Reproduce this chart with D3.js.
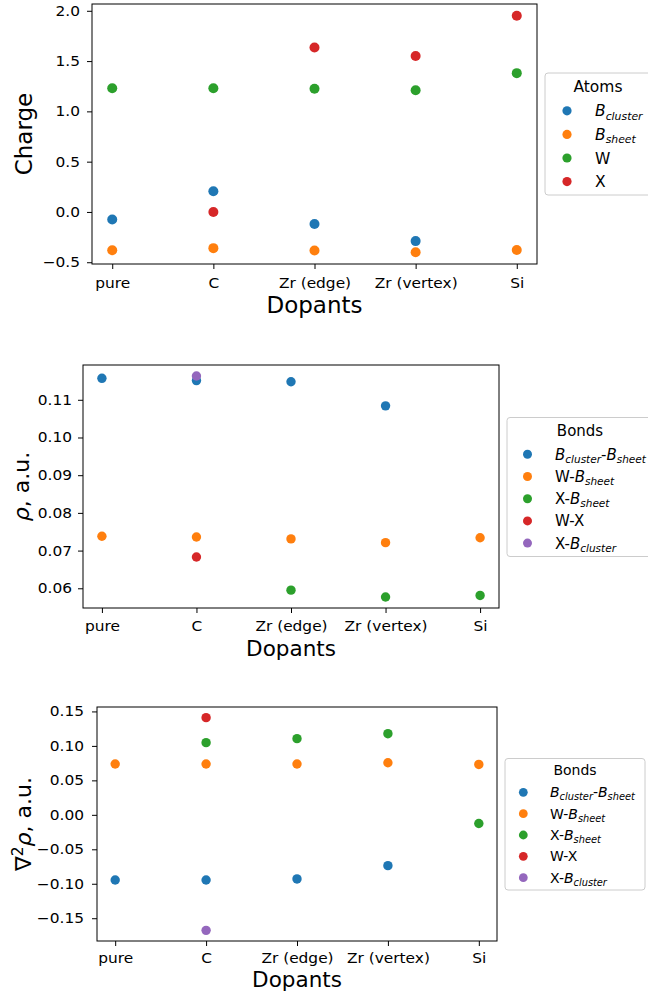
<!DOCTYPE html>
<html>
<head>
<meta charset="utf-8">
<script src="https://cdn.jsdelivr.net/npm/d3@7"></script>
<style>
  body { margin: 0; background: #fff; }
  svg { display: block; font-family: "DejaVu Sans", sans-serif; }
</style>
</head>
<body>
<svg id="chart" width="648" height="994"></svg>
<script>
var dopants = ['pure', 'C', 'Zr (edge)', 'Zr (vertex)', 'Si'];

// charges
var chargeBCluster = [-0.075, 0.205, -0.12, -0.29, null];
var chargeBSheet = [-0.38, -0.36, -0.384, -0.40, -0.378];
var chargeW = [1.23, 1.23, 1.225, 1.21, 1.38];
var chargeX = [null, 0.0, 1.635, 1.55, 1.95];

// electron density at bond critical points
var rhoBB = [0.1157, 0.1151, 0.1148, 0.1084, null];
var rhoWB = [0.0738, 0.0736, 0.0731, 0.0721, 0.0734];
var rhoXB = [null, null, 0.0595, 0.0577, 0.0581];
var rhoWX = [null, 0.0683, null, null, null];
var rhoXBc = [null, 0.1163, null, null, null];

// laplacian of rho
var lapBB = [-0.0945, -0.0945, -0.093, -0.0737, null];
var lapWB = [0.0737, 0.0737, 0.0737, 0.0756, 0.0731];
var lapXB = [null, 0.1047, 0.1105, 0.1177, -0.0126];
var lapWX = [null, 0.141, null, null, null];
var lapXBc = [null, -0.1676, null, null, null];

var chargeTicks = [-0.5, 0.0, 0.5, 1.0, 1.5, 2.0];
var rhoTicks = [0.06, 0.07, 0.08, 0.09, 0.10, 0.11];
var lapTicks = [-0.15, -0.10, -0.05, 0.00, 0.05, 0.10, 0.15];

var atomLabels = [[['B', 'cluster']], [['B', 'sheet']], ['W'], ['X']];
var bondLabels = [
  [['B', 'cluster'], '-', ['B', 'sheet']],
  ['W-', ['B', 'sheet']],
  ['X-', ['B', 'sheet']],
  ['W-X'],
  ['X-', ['B', 'cluster']]
];

var colors = ['#1f77b4', '#ff7f0e', '#2ca02c', '#d62728', '#9467bd'];

var svg = d3.select('#chart');
var stretch = 1.1; // tick labels in the picture are a bit wide

function padDomain(series) {
  var all = [];
  series.forEach(function (s) {
    s.forEach(function (v) {
      if (v !== null) all.push(v);
    });
  });
  var ext = d3.extent(all);
  var m = (ext[1] - ext[0]) * 0.05;
  return [ext[0] - m, ext[1] + m];
}

// mathtext-like label: strings plain, [base, sub] italic with subscript
function writeLabel(text, parts, fs) {
  var shift = 0;
  parts.forEach(function (part) {
    if (typeof part === 'string') {
      text.append('tspan').attr('dy', -shift).text(part);
      shift = 0;
    } else {
      text.append('tspan').attr('dy', -shift).attr('font-style', 'italic').text(part[0]);
      var d = fs * 0.22;
      text.append('tspan')
        .attr('dy', d)
        .attr('font-style', 'italic')
        .attr('font-size', fs * 0.7)
        .text(part[1]);
      shift = d;
    }
  });
}

function drawPanel(p) {
  var g = svg.append('g');
  var x = d3.scalePoint()
    .domain(dopants)
    .range([p.left, p.right])
    .padding(0.2);
  var y = d3.scaleLinear()
    .domain(padDomain(p.series))
    .range([p.bottom, p.top]);

  var xAxis = g.append('g')
    .attr('transform', 'translate(0,' + p.bottom + ')')
    .call(d3.axisBottom(x).tickSize(5).tickPadding(p.xPad));
  var yAxis = g.append('g')
    .attr('transform', 'translate(' + p.left + ',0)')
    .call(d3.axisLeft(y).tickValues(p.ticks).tickFormat(d3.format(p.fmt)).tickSize(5).tickPadding(p.yPad));
  [xAxis, yAxis].forEach(function (a) {
    a.select('.domain').remove();
    a.attr('font-family', null).attr('font-size', p.tickFs);
    a.selectAll('line').attr('stroke', '#000').attr('stroke-width', 1);
    a.selectAll('text').attr('fill', '#000').attr('transform', 'scale(' + stretch + ',1)');
  });
  yAxis.selectAll('text').attr('x', -(5 + p.yPad) / stretch);

  g.append('rect')
    .attr('x', p.left)
    .attr('y', p.top)
    .attr('width', p.right - p.left)
    .attr('height', p.bottom - p.top)
    .attr('fill', 'none')
    .attr('stroke', '#000')
    .attr('stroke-width', 1);

  p.series.forEach(function (s, k) {
    var pts = dopants
      .map(function (d, i) { return { cat: d, v: s[i] }; })
      .filter(function (d) { return d.v !== null; });
    g.append('g')
      .selectAll('circle')
      .data(pts)
      .enter()
      .append('circle')
      .attr('cx', function (d) { return x(d.cat); })
      .attr('cy', function (d) { return y(d.v); })
      .attr('r', p.r)
      .attr('fill', colors[k]);
  });

  g.append('text')
    .attr('x', (p.left + p.right) / 2)
    .attr('y', p.xLabelY)
    .attr('text-anchor', 'middle')
    .attr('font-size', p.labelFs)
    .text('Dopants');

  var yl = g.append('text')
    .attr('transform', 'translate(' + p.yLabelX + ',' + (p.top + p.bottom) / 2 + ') rotate(-90)')
    .attr('text-anchor', 'middle')
    .attr('font-size', p.yLabelFs);
  p.yLabel(yl, p.yLabelFs);

  // legend
  var L = p.legend;
  var lg = g.append('g');
  lg.append('rect')
    .attr('x', L.x)
    .attr('y', L.y)
    .attr('width', L.w)
    .attr('height', L.h)
    .attr('rx', 3)
    .attr('fill', '#fff')
    .attr('fill-opacity', 0.8)
    .attr('stroke', '#cccccc')
    .attr('stroke-width', 1);
  lg.append('text')
    .attr('x', L.titleX)
    .attr('y', L.titleY)
    .attr('text-anchor', 'middle')
    .attr('font-size', L.fs)
    .text(L.title);
  L.labels.forEach(function (lab, k) {
    var cy = L.itemY + k * L.step;
    lg.append('circle')
      .attr('cx', L.markX)
      .attr('cy', cy)
      .attr('r', L.r)
      .attr('fill', colors[k]);
    var t = lg.append('text')
      .attr('x', L.textX)
      .attr('y', cy + L.fs * 0.36)
      .attr('font-size', L.fs);
    writeLabel(t, lab, L.fs);
  });
}

drawPanel({
  left: 92, right: 537, top: 4, bottom: 264,
  series: [chargeBCluster, chargeBSheet, chargeW, chargeX],
  ticks: chargeTicks, fmt: '.1f',
  tickFs: 14, xPad: 9, yPad: 7, r: 5,
  labelFs: 23, xLabelY: 313,
  yLabelFs: 23, yLabelX: 32,
  yLabel: function (t) { t.text('Charge'); },
  legend: {
    x: 545, y: 73, w: 112, h: 122,
    title: 'Atoms', titleX: 598, titleY: 91.5, fs: 15.5,
    markX: 567, textX: 595, itemY: 110.8, step: 23.6, r: 4.6,
    labels: atomLabels
  }
});

drawPanel({
  left: 83, right: 499, top: 365, bottom: 608,
  series: [rhoBB, rhoWB, rhoXB, rhoWX, rhoXBc],
  ticks: rhoTicks, fmt: '.2f',
  tickFs: 14, xPad: 8, yPad: 6, r: 4.7,
  labelFs: 21.5, xLabelY: 655.5,
  yLabelFs: 22, yLabelX: 29,
  yLabel: function (t) {
    t.append('tspan').attr('font-style', 'italic').text('ρ');
    t.append('tspan').text(', a.u.');
  },
  legend: {
    x: 507, y: 417.5, w: 150, h: 139,
    title: 'Bonds', titleX: 580, titleY: 436, fs: 15,
    markX: 527.5, textX: 555, itemY: 454.3, step: 22.2, r: 4.5,
    labels: bondLabels
  }
});

drawPanel({
  left: 97, right: 497, top: 707, bottom: 941,
  series: [lapBB, lapWB, lapXB, lapWX, lapXBc],
  ticks: lapTicks, fmt: '.2f',
  tickFs: 14, xPad: 7, yPad: 8, r: 4.7,
  labelFs: 21.5, xLabelY: 987,
  yLabelFs: 22, yLabelX: 31,
  yLabel: function (t, fs) {
    t.append('tspan').text('∇');
    t.append('tspan').attr('font-size', fs * 0.7).attr('dy', -fs * 0.35).text('2');
    t.append('tspan').attr('dy', fs * 0.35).attr('font-style', 'italic').text('ρ');
    t.append('tspan').text(', a.u.');
  },
  legend: {
    x: 505, y: 758.5, w: 140, h: 131.5,
    title: 'Bonds', titleX: 575, titleY: 775, fs: 14,
    markX: 523.3, textX: 550, itemY: 792.3, step: 21.35, r: 4.4,
    labels: bondLabels
  }
});
</script>
</body>
</html>
